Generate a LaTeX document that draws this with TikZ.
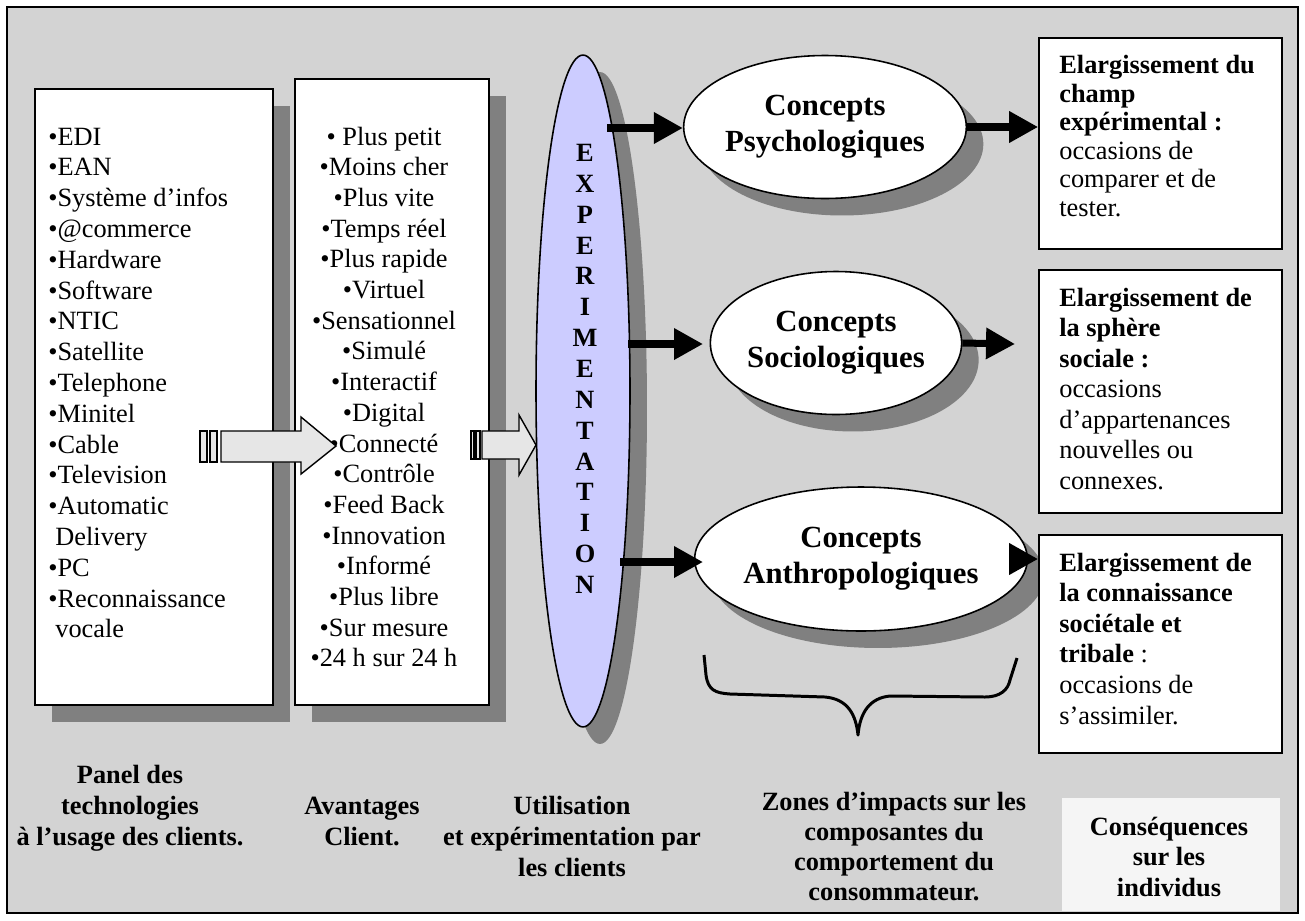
\documentclass[tikz,border=0pt]{standalone}
\usepackage{fontspec}
\setmainfont{Liberation Serif}
\usepackage{xcolor}
\usepackage{tikz}
\usetikzlibrary{arrows.meta,positioning,shapes.geometric,shadows}
\definecolor{framegray}{HTML}{D3D3D3}
\definecolor{shadowgray}{HTML}{808080}
\definecolor{lavender}{HTML}{CCCCFF}
\definecolor{arrowfill}{HTML}{E6E6E6}
\definecolor{notefill}{HTML}{F5F5F5}

\tikzset{
  shadowed/.style={drop shadow={shadow xshift=0.34cm,shadow yshift=-0.34cm,
      fill=shadowgray,opacity=1}},
  panel/.style={draw=black,line width=1pt,fill=white,inner sep=0pt,shadowed},
  concept/.style={ellipse,draw=black,line width=0.9pt,fill=white,inner sep=0pt,
      align=center,font=\fontsize{17.5pt}{20.5pt}\selectfont\bfseries,shadowed},
  effectbox/.style={draw=black,line width=1pt,fill=white,inner sep=0pt,
      minimum width=4.86cm},
  listitem/.style={font=\fontsize{15pt}{17.5pt}\selectfont,inner sep=0pt},
  caption/.style={font=\fontsize{15pt}{17.5pt}\selectfont\bfseries,inner sep=0pt},
  bigarrow/.style={line width=4pt,-{Triangle[length=16.5pt,width=17pt]}},
  blockarrow/.style={draw=black,line width=0.8pt,fill=arrowfill},
}

\begin{document}
\begin{tikzpicture}[x=0.02cm,y=-0.02cm]
  \useasboundingbox (0,0) rectangle (1305,920);
  \draw[fill=framegray,line width=1pt] (7,7) rectangle (1298,913);

  % technologies, advantages, experimentation
  \node[panel,minimum width=4.76cm,minimum height=12.32cm] (techs) at (154,397) {};
  \node[panel,minimum width=3.88cm,minimum height=12.52cm] (gains) at (392,392) {};
  \node[ellipse,draw=black,line width=0.9pt,fill=lavender,inner sep=0pt,
        minimum width=1.88cm,minimum height=13.44cm,shadowed] (expe) at (583,391) {};

  \foreach \entry [count=\i from 0] in {•EDI,•EAN,•Système d’infos,•@commerce,
      •Hardware,•Software,•NTIC,•Satellite,•Telephone,•Minitel,•Cable,
      •Television,•Automatic,\hspace{4pt}Delivery,•PC,•Reconnaissance,
      \hspace{4pt}vocale}
    \node[listitem,anchor=base west] (tech\i) at (48,145+30.8*\i) {\entry};

  \foreach \entry [count=\i from 0] in {• Plus petit,•Moins cher,•Plus vite,
      •Temps réel,•Plus rapide,•Virtuel,•Sensationnel,•Simulé,•Interactif,
      •Digital,•Connecté,•Contrôle,•Feed Back,•Innovation,•Informé,
      •Plus libre,•Sur mesure,•24 h sur 24 h}
    \node[listitem,anchor=base] (gain\i) at (384,145+30.7*\i) {\entry};

  \foreach \l [count=\i from 0] in {E,X,P,E,R,I,M,E,N,T,A,T,I,O,N}
    \node[caption,anchor=base] (letter\i) at (585,161.5+30.86*\i) {\l};

  % block arrows
  \draw[blockarrow] (200,431) rectangle (207,462);
  \draw[blockarrow] (210,431) rectangle (217,462);
  \draw[blockarrow] (221,431) -- (301,431) -- (301,417) -- (336,446)
    -- (301,474) -- (301,462) -- (221,462) -- cycle;
  \draw[blockarrow] (471,431) rectangle (474,459);
  \draw[blockarrow] (476,431) rectangle (480,459);
  \draw[blockarrow] (482,431) -- (519,431) -- (519,415) -- (536,445)
    -- (519,475) -- (519,459) -- (482,459) -- cycle;

  % concepts
  \node[concept,minimum width=4.88cm,minimum height=2.86cm] (psy) at (825,127)
    {Concepts\\Psychologiques};
  \node[concept,minimum width=4.34cm,minimum height=2.86cm] (soc) at (836,343)
    {Concepts\\Sociologiques};
  \node[concept,minimum width=5.36cm,minimum height=2.88cm] (anthro) at (861,559)
    {Concepts\\Anthropologiques};

  % consequences
  \node[effectbox,minimum height=4.22cm] (eff1) at (1160.5,143.5) {};
  \node[effectbox,minimum height=4.86cm] (eff2) at (1160.5,391.5) {};
  \node[effectbox,minimum height=4.36cm] (eff3) at (1160.5,644) {};

  \foreach \entry [count=\i from 0] in {\textbf{Elargissement du},\textbf{champ},
      \textbf{expérimental :},occasions de,comparer et de,tester.}
    \node[listitem,anchor=base west] (effa\i) at (1059,73.5+28.5*\i) {\entry};
  \foreach \entry [count=\i from 0] in {\textbf{Elargissement de},\textbf{la sphère},
      \textbf{sociale :},occasions,d’appartenances,nouvelles ou,connexes.}
    \node[listitem,anchor=base west] (effb\i) at (1059,306+30.5*\i) {\entry};
  \foreach \entry [count=\i from 0] in {\textbf{Elargissement de},
      \textbf{la connaissance},\textbf{sociétale et},\textbf{tribale} :,
      occasions de,s’assimiler.}
    \node[listitem,anchor=base west] (effc\i) at (1059,571+30.6*\i) {\entry};

  % arrows
  \coordinate (e1) at (607,128);
  \coordinate (e2) at (628,344);
  \coordinate (t2) at (703,344);
  \coordinate (e3) at (620,562);
  \coordinate (t3) at (703,562);
  \coordinate (t5) at (1015,344);
  \draw[bigarrow] (e1) -- (e1 -| psy.west);
  \draw[bigarrow] (e2) -- (t2);
  \draw[bigarrow] (e3) -- (t3);
  \draw[bigarrow] (psy.east) -- (psy.east -| eff1.west);
  \draw[bigarrow] (soc.east) -- (t5);
  \draw[bigarrow] (anthro.east) -- (anthro.east -| eff3.west);

  % brace under the concepts
  \draw[line width=1.7pt,line join=round] (704,655) -- (706,675)
    .. controls (708,690) and (715,693) .. (730,694) -- (825,697)
    .. controls (848,699) and (856,715) .. (858,735)
    .. controls (860,712) and (870,698) .. (890,696) -- (985,697)
    .. controls (1000,697) and (1008,690) .. (1010,680) -- (1017,658);

  % captions
  \foreach \entry [count=\i from 0] in {Panel des,technologies,à l’usage des clients.}
    \node[caption,anchor=base] (techcap\i) at (130,783+31*\i) {\entry};
  \foreach \entry [count=\i from 0] in {Avantages,Client.}
    \node[caption,anchor=base] (gaincap\i) at (362,814+31*\i) {\entry};
  \foreach \entry [count=\i from 0] in {Utilisation,et expérimentation par,les clients}
    \node[caption,anchor=base] (expecap\i) at (572,814+31*\i) {\entry};
  \foreach \entry [count=\i from 0] in {Zones d’impacts sur les,composantes du,
      comportement du,consommateur.}
    \node[caption,anchor=base] (zonecap\i) at (894,810+30.3*\i) {\entry};
  \node[fill=notefill,inner sep=0pt,minimum width=4.36cm,minimum height=2.26cm]
    (conseq) at (1171,854.5) {};
  \foreach \entry [count=\i from 0] in {Conséquences,sur les,individus}
    \node[caption,anchor=base] (conseqcap\i) at (1169,835+30.5*\i) {\entry};
\end{tikzpicture}
\end{document}
